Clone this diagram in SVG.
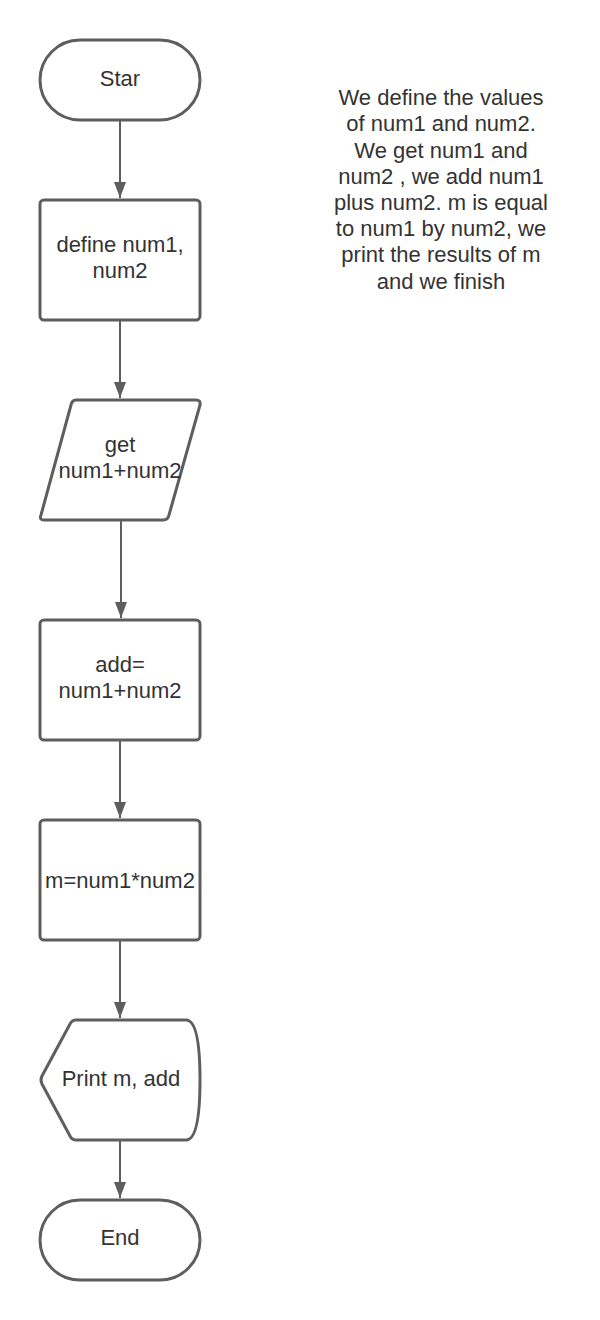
<svg xmlns="http://www.w3.org/2000/svg" width="600" height="1320" viewBox="0 0 600 1320">
  <defs>
    <style>
      .shape { fill: #ffffff; stroke: #5e5e5e; stroke-width: 3; stroke-linejoin: round; }
      .label { font-family: "Liberation Sans", Arial, sans-serif; font-size: 22px; fill: #333333; text-anchor: middle; }
      .conn { stroke: #5e5e5e; stroke-width: 2; fill: none; marker-end: url(#arrow); }
    </style>
    <marker id="arrow" markerWidth="17" markerHeight="12" refX="16" refY="6" orient="auto" markerUnits="userSpaceOnUse">
      <path d="M0,0 L16,6 L0,12 Z" fill="#5e5e5e"/>
    </marker>
  </defs>
  <rect width="600" height="1320" fill="#ffffff"/>

  <!-- connectors -->
  <g id="connectors">
    <line class="conn" x1="120" y1="121" x2="120" y2="198"/>
    <line class="conn" x1="120" y1="321" x2="120" y2="398"/>
    <line class="conn" x1="121" y1="521" x2="121" y2="618"/>
    <line class="conn" x1="120" y1="741" x2="120" y2="818"/>
    <line class="conn" x1="120" y1="941" x2="120" y2="1018"/>
    <line class="conn" x1="120" y1="1141" x2="120" y2="1198"/>
  </g>

  <g id="start">
    <rect class="shape" x="40" y="40" width="160" height="80" rx="40" ry="40"/>
    <text class="label" x="120" y="86">Star</text>
  </g>

  <g id="define">
    <rect class="shape" x="40" y="200" width="160" height="120" rx="4" ry="4"/>
    <text class="label" x="120" y="252">define num1,</text>
    <text class="label" x="120" y="278">num2</text>
  </g>

  <g id="input">
    <path class="shape" d="M76,400 L196,400 Q201,400 200,405 L169,515 Q168,520 163,520 L44,520 Q39,520 41,515 L71,405 Q72,400 76,400 Z"/>
    <text class="label" x="120" y="452">get</text>
    <text class="label" x="120" y="478">num1+num2</text>
  </g>

  <g id="add">
    <rect class="shape" x="40" y="620" width="160" height="120" rx="4" ry="4"/>
    <text class="label" x="120" y="672">add=</text>
    <text class="label" x="120" y="698">num1+num2</text>
  </g>

  <g id="multiply">
    <rect class="shape" x="40" y="820" width="160" height="120" rx="4" ry="4"/>
    <text class="label" x="120" y="888">m=num1*num2</text>
  </g>

  <g id="display">
    <path class="shape" d="M76,1020 L186,1020 Q200,1020 200,1080 Q200,1140 186,1140 L76,1140 Q72,1140 70,1136 L42,1084 Q40,1080 42,1076 L70,1024 Q72,1020 76,1020 Z"/>
    <text class="label" x="121" y="1086">Print m, add</text>
  </g>

  <g id="end">
    <rect class="shape" x="40" y="1200" width="160" height="80" rx="40" ry="40"/>
    <text class="label" x="120" y="1245">End</text>
  </g>

  <g id="note">
    <text class="label" x="441" y="105">We define the values</text>
    <text class="label" x="441" y="131">of num1 and num2.</text>
    <text class="label" x="441" y="158">We get num1 and</text>
    <text class="label" x="441" y="184">num2 , we add num1</text>
    <text class="label" x="441" y="210">plus num2. m is equal</text>
    <text class="label" x="441" y="236">to num1 by num2, we</text>
    <text class="label" x="441" y="262">print the results of m</text>
    <text class="label" x="441" y="289">and we finish</text>
  </g>
</svg>
